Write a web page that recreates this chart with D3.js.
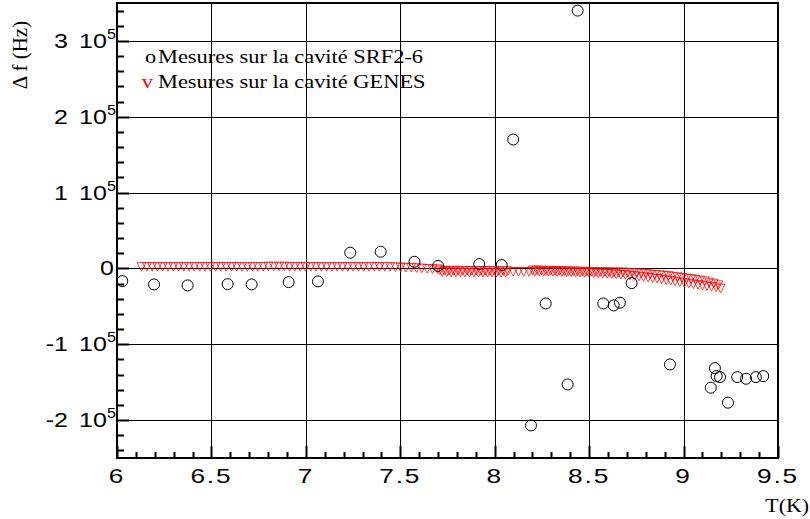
<!DOCTYPE html>
<html>
<head>
<meta charset="utf-8">
<script src="https://cdn.jsdelivr.net/npm/d3@7"></script>
<style>
  body { margin: 0; background: #fff; }
  svg { display: block; }
</style>
</head>
<body>
<svg id="chart" width="810" height="519"></svg>
<script>
// SRF2-6 measurements (open circles): T in K, delta f in Hz
const srfT = [6.028, 6.196, 6.374, 6.586, 6.713, 6.909, 7.064, 7.235, 7.396, 7.575,
              7.700, 7.918, 8.037, 8.098, 8.192, 8.270, 8.386, 8.439, 8.575, 8.630,
              8.663, 8.725, 8.928, 9.144, 9.166, 9.175, 9.193, 9.235, 9.284, 9.331,
              9.383, 9.422];
const srfDf = [-16700, -21100, -22400, -20700, -21100, -18100, -17100, 20700, 22000, 8800,
               3300, 5700, 4400, 170000, -207000, -46200, -153000, 340000, -46200, -48800,
               -45200, -19400, -126600, -157300, -131500, -142000, -143300, -177100, -143300, -145500,
               -143300, -142000];

// GENES measurements (open triangles down): T in K, delta f in Hz
const genesT = [
  6.130, 6.158, 6.186, 6.214, 6.242, 6.270, 6.298, 6.326, 6.354, 6.382,
  6.410, 6.438, 6.466, 6.494, 6.522, 6.550, 6.578, 6.606, 6.634, 6.662,
  6.690, 6.718, 6.746, 6.774, 6.802, 6.830, 6.858, 6.886, 6.914, 6.942,
  6.970, 6.998, 7.026, 7.054, 7.082, 7.110, 7.138, 7.166, 7.194, 7.222,
  7.250, 7.278, 7.306, 7.334, 7.362, 7.390, 7.418, 7.446, 7.474, 7.502,
  7.530, 7.558, 7.586, 7.614, 7.642, 7.670, 7.698,
  7.710, 7.722, 7.734, 7.746, 7.758, 7.770, 7.782, 7.794, 7.806, 7.818,
  7.830, 7.842, 7.854, 7.866, 7.878, 7.890, 7.902, 7.914, 7.926, 7.938,
  7.950, 7.962, 7.974, 7.986, 7.998, 8.010, 8.022, 8.034, 8.046, 8.058, 8.070,
  8.098, 8.126, 8.154, 8.182,
  8.200, 8.212, 8.224, 8.236, 8.248, 8.260, 8.272,
  8.284, 8.296, 8.308, 8.320, 8.332, 8.344, 8.356,
  8.368, 8.380, 8.392, 8.404, 8.416, 8.428, 8.440,
  8.452, 8.464, 8.476, 8.488, 8.500, 8.512, 8.524,
  8.536, 8.548, 8.560, 8.572, 8.584, 8.596, 8.608,
  8.620, 8.632, 8.644, 8.656, 8.668, 8.680, 8.692,
  8.704, 8.716, 8.728, 8.740, 8.752, 8.764, 8.776,
  8.788, 8.800, 8.812, 8.824, 8.836, 8.848, 8.860,
  8.872, 8.884, 8.896, 8.908, 8.920, 8.932, 8.944,
  8.956, 8.968, 8.980, 8.992, 9.004, 9.016, 9.028,
  9.040, 9.052, 9.064, 9.076, 9.088, 9.100, 9.112,
  9.124, 9.136, 9.148, 9.160, 9.172, 9.184, 9.196
];
const genesDf = [
  2000, 2000, 2000, 2000, 2000, 2000, 2000, 2000, 2000, 2000,
  2000, 2000, 2000, 2000, 2000, 2000, 2000, 2000, 2000, 2000,
  2000, 2000, 2000, 2000, 2500, 2500, 2500, 2500, 2000, 2000,
  2000, 2000, 2000, 2000, 2000, 2000, 2000, 2000, 2000, 2000,
  2000, 2000, 2000, 2000, 2000, 2000, 2000, 2000, 1500, 1500,
  1000, 1000, 500, 0, -500, -1000, -1000,
  -2500, -4800, -2800, -5000, -2900, -5200, -3000, -5300, -3000, -5400,
  -3100, -5500, -3100, -5500, -3200, -5600, -3200, -5600, -3300, -5700,
  -3300, -5700, -3400, -5800, -3400, -5800, -3500, -5800, -3500, -5900, -3600,
  -4500, -4500, -4500, -4600,
  -2500, -4000, -2600, -4100, -2700, -4200, -2900,
  -4300, -3000, -4500, -3200, -4600, -3300, -4800,
  -3500, -5000, -3700, -5200, -3800, -5400, -4000,
  -5600, -4200, -5800, -4400, -6000, -4500, -6200,
  -4600, -6400, -4700, -6700, -4800, -7000, -5000,
  -7400, -5100, -7800, -5200, -8200, -5300, -8700,
  -5500, -9300, -5800, -10000, -6200, -10700, -6700,
  -11400, -7200, -12100, -7700, -12900, -8200, -13700,
  -8700, -14500, -9300, -15400, -10000, -16300, -10800,
  -17200, -11500, -18100, -12300, -19000, -13100, -19900,
  -13900, -20800, -14800, -21700, -15800, -22600, -16800,
  -23400, -18500, -24200, -20000, -25000, -22000, -26500
];

const xTickValues = [6, 6.5, 7, 7.5, 8, 8.5, 9, 9.5];
const xTickLabels = ["6", "6.5", "7", "7.5", "8", "8.5", "9", "9.5"];
const yTickValues = [-200000, -100000, 0, 100000, 200000, 300000];
const yTickMantissas = ["-2", "-1", "0", "1", "2", "3"];
const legendLabels = ["Mesures sur la cavité SRF2-6", "Mesures sur la cavité GENES"];

const sans = "'Liberation Sans', Arial, Helvetica, sans-serif";
const serif = "'Liberation Serif', 'Times New Roman', Times, serif";

const svg = d3.select("#chart");
const margin = {top: 3, right: 32, bottom: 61, left: 117};
const width = +svg.attr("width") - margin.left - margin.right;
const height = +svg.attr("height") - margin.top - margin.bottom;

const g = svg.append("g")
    .attr("transform", "translate(" + margin.left + "," + margin.top + ")");

const x = d3.scaleLinear().domain([6, 9.5]).range([0, width]);
const y = d3.scaleLinear().domain([-250000, 350000]).range([height, 0]);

// snap 1px lines onto whole pixels
const px = v => Math.round(v) + 0.5;

// grid
g.append("g").selectAll("line")
    .data(xTickValues.slice(1, -1))
    .join("line")
    .attr("x1", d => px(x(d))).attr("x2", d => px(x(d)))
    .attr("y1", 0).attr("y2", height)
    .attr("stroke", "#000").attr("stroke-width", 1);

g.append("g").selectAll("line")
    .data(yTickValues)
    .join("line")
    .attr("x1", 0).attr("x2", width)
    .attr("y1", d => px(y(d))).attr("y2", d => px(y(d)))
    .attr("stroke", "#000").attr("stroke-width", 1);

// ticks on the left axis (inside)
g.append("g").selectAll("line")
    .data(y.ticks(30))
    .join("line")
    .attr("x1", 0)
    .attr("x2", d => yTickValues.includes(d) ? 12 : 7)
    .attr("y1", d => px(y(d))).attr("y2", d => px(y(d)))
    .attr("stroke", "#000").attr("stroke-width", 2);

// ticks on the bottom axis (inside)
g.append("g").selectAll("line")
    .data(x.ticks(35))
    .join("line")
    .attr("x1", d => px(x(d))).attr("x2", d => px(x(d)))
    .attr("y1", height)
    .attr("y2", d => xTickValues.some(v => Math.abs(v - d) < 1e-9) ? height - 12 : height - 6)
    .attr("stroke", "#000").attr("stroke-width", 2);

// GENES triangles
g.append("g").selectAll("path")
    .data(genesT)
    .join("path")
    .attr("transform", (d, i) => "translate(" + x(d) + "," + y(genesDf[i]) + ")")
    .attr("d", "M-4.5,-4.3L4.5,-4.3L0,4.3Z")
    .attr("fill", "none")
    .attr("stroke", "#ff0000")
    .attr("stroke-width", 0.75);

// SRF2-6 circles
g.append("g").selectAll("circle")
    .data(srfT)
    .join("circle")
    .attr("cx", d => x(d))
    .attr("cy", (d, i) => y(srfDf[i]))
    .attr("r", 5.5)
    .attr("fill", "none")
    .attr("stroke", "#000")
    .attr("stroke-width", 1);

// frame
g.append("rect")
    .attr("x", 0).attr("y", 0)
    .attr("width", width).attr("height", height)
    .attr("fill", "none").attr("stroke", "#000").attr("stroke-width", 2);

// text with a horizontal stretch, like the original rendering
function stretchText(tx, ty, str, size, family, sx, anchor) {
    return svg.append("text")
        .attr("transform", "translate(" + tx + "," + ty + ") scale(" + sx + ",1)")
        .attr("font-family", family)
        .attr("font-size", size)
        .attr("text-anchor", anchor || "start")
        .attr("fill", "#000")
        .text(str);
}

// y tick labels: "n 10^5"
yTickValues.forEach((v, i) => {
    const ty = margin.top + y(v) + 7;
    if (v === 0) {
        stretchText(114, ty, yTickMantissas[i], 20, sans, 1.25, "end");
        return;
    }
    stretchText(68, ty, yTickMantissas[i], 20, sans, 1.25, "end");
    stretchText(79, ty, "10", 20, sans, 1.25, "start");
    stretchText(107, ty - 9, "5", 14, sans, 1.15, "start");
});

// x tick labels
xTickValues.forEach((v, i) => {
    stretchText(margin.left + x(v), 483, xTickLabels[i], 21, sans, 1.25, "middle")
        .attr("letter-spacing", 1.5);
});

// axis titles
svg.append("text")
    .attr("transform", "translate(27,55) rotate(-90)")
    .attr("font-family", serif)
    .attr("font-size", 21)
    .attr("text-anchor", "middle")
    .text("\u0394 f (Hz)");

stretchText(809, 512, "T(K)", 19, serif, 1.15, "end");

// legend
stretchText(145, 62.7, "o", 19, serif, 1.18, "start");
stretchText(158, 62.7, legendLabels[0], 19, serif, 1.18, "start");
stretchText(141.7, 87.5, "v", 19, serif, 1.18, "start").attr("fill", "#ff0000");
stretchText(158, 87.5, legendLabels[1], 19, serif, 1.18, "start");
</script>
</body>
</html>
